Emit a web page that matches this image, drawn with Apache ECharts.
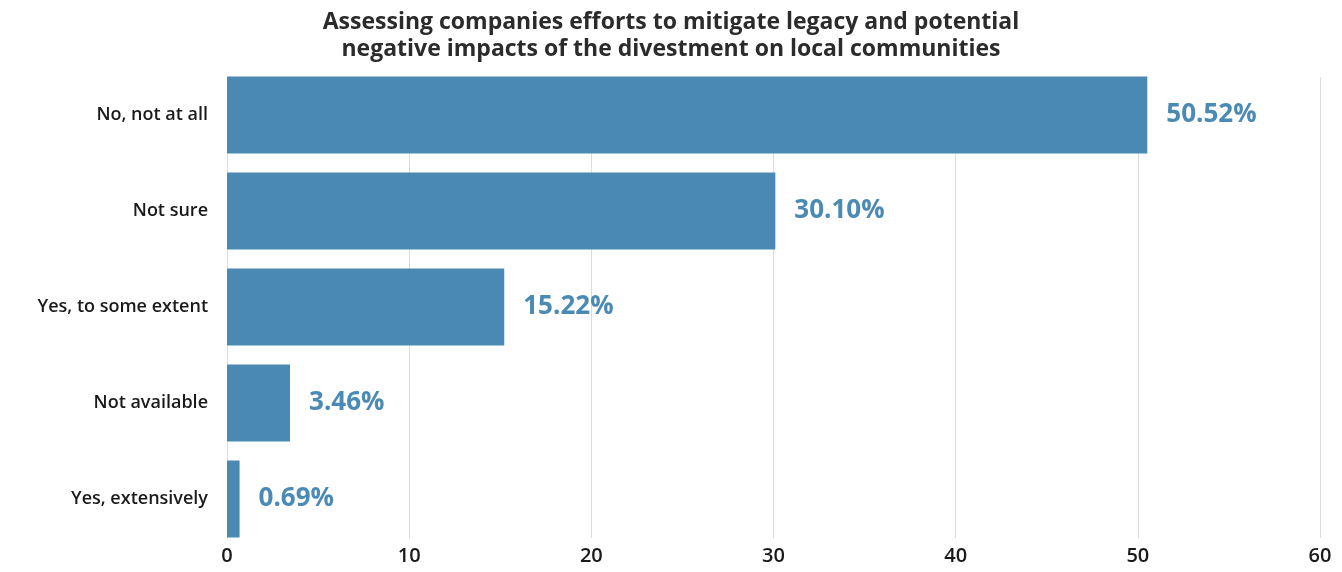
<!DOCTYPE html>
<html>
<head>
<meta charset="utf-8">
<script src="https://cdn.jsdelivr.net/npm/echarts@6/dist/echarts.min.js"></script>
<style>
  html, body { margin: 0; padding: 0; background: #fff; }
  #chart { width: 1342px; height: 572px; }
</style>
</head>
<body>
<div id="chart"></div>
<script>
// Survey answers and their shares (%)
const categories = ['No, not at all', 'Not sure', 'Yes, to some extent', 'Not available', 'Yes, extensively'];
const shares = [50.52, 30.10, 15.22, 3.46, 0.69];
const xTicks = [0, 10, 20, 30, 40, 50, 60];

const titleText = 'Assessing companies efforts to mitigate legacy and potential\nnegative impacts of the divestment on local communities';
const barColor = '#4a89b1';
const font = '"Open Sans", "Noto Sans", sans-serif';

const chart = echarts.init(document.getElementById('chart'), null, { renderer: 'canvas' });

chart.setOption({
  animation: false,
  backgroundColor: '#ffffff',
  title: {
    text: titleText,
    left: 'center',
    top: 4,
    textStyle: {
      fontFamily: font,
      fontSize: 23,
      fontWeight: 'bold',
      color: '#2b2b2b',
      lineHeight: 27
    }
  },
  grid: [
    // grid carrying the value axis, its gridlines and tick labels
    { left: 227, right: 22, top: 77, bottom: 34, containLabel: false },
    // grid carrying the bars and category labels
    { left: 227, right: 22, top: 67, bottom: 25, containLabel: false }
  ],
  xAxis: [
    {
      gridIndex: 0,
      type: 'value',
      min: xTicks[0],
      max: xTicks[xTicks.length - 1],
      interval: xTicks[1] - xTicks[0],
      axisLine: { show: false },
      axisTick: { show: false },
      splitLine: { show: true, lineStyle: { color: '#dcdcdc', width: 1 } },
      axisLabel: {
        margin: 8,
        fontFamily: font,
        fontSize: 20,
        fontWeight: 600,
        color: '#1a1a1a'
      }
    },
    {
      gridIndex: 1,
      type: 'value',
      min: xTicks[0],
      max: xTicks[xTicks.length - 1],
      show: false
    }
  ],
  yAxis: [
    {
      gridIndex: 0,
      type: 'category',
      data: categories,
      show: false
    },
    {
      gridIndex: 1,
      type: 'category',
      data: categories,
      inverse: true,
      axisLine: { show: false },
      axisTick: { show: false },
      splitLine: { show: false },
      axisLabel: {
        margin: 19,
        fontFamily: font,
        fontSize: 18,
        fontWeight: 600,
        color: '#1a1a1a'
      }
    }
  ],
  series: [
    {
      type: 'bar',
      xAxisIndex: 1,
      yAxisIndex: 1,
      data: shares,
      barCategoryGap: '20%',
      itemStyle: { color: barColor },
      label: {
        show: true,
        position: 'right',
        distance: 19,
        formatter: p => p.value.toFixed(2) + '%',
        fontFamily: font,
        fontSize: 26,
        fontWeight: 'bold',
        color: '#4a8ab4'
      }
    }
  ]
});
</script>
</body>
</html>
